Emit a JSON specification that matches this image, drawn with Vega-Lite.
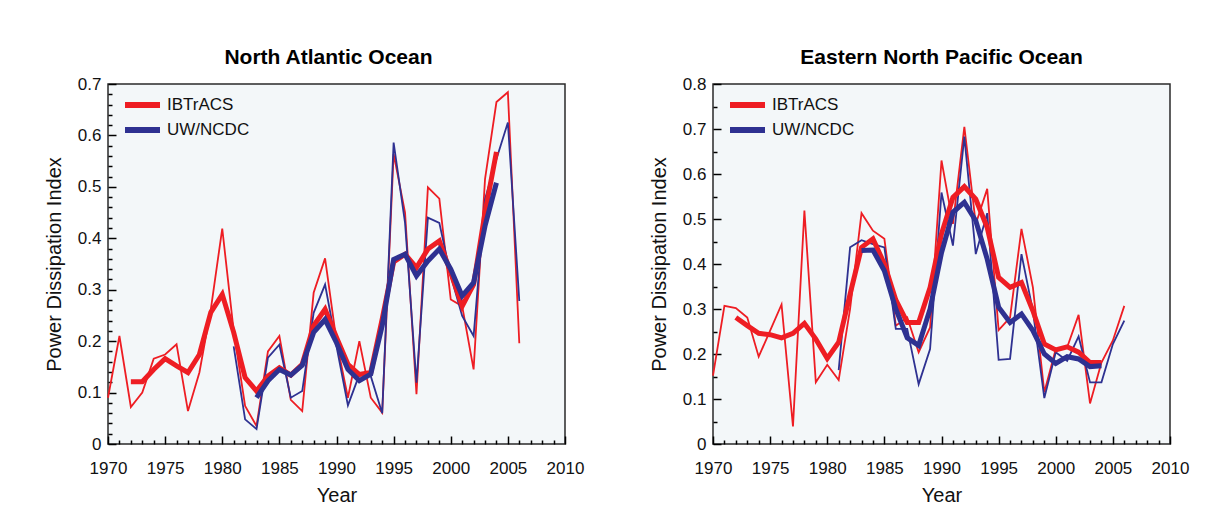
{
  "$schema": "https://vega.github.io/schema/vega-lite/v6.json",
  "background": "white",
  "padding": {"left": 43, "top": 46, "right": 10, "bottom": 5},
  "spacing": 63,
  "config": {
    "font": "Liberation Sans",
    "view": {"fill": "#f3f7f9", "stroke": "#2a2a2a", "strokeWidth": 1.5},
    "axis": {"grid": false, "domain": false, "labelFlush": false, "labelFont": "Liberation Sans", "labelFontSize": 17, "labelColor": "#111", "titleFont": "Liberation Sans", "titleFontSize": 20, "titleFontWeight": "normal", "titleColor": "#111", "tickColor": "#000", "tickWidth": 1.5, "ticks": true, "zindex": 1},
    "title": {"font": "Liberation Sans", "fontSize": 21, "fontWeight": "bold", "color": "#000", "offset": 7},
    "legend": {"orient": "none", "legendX": 24, "legendY": 10.5, "padding": 0, "symbolType": "M-2.333,0H2.333", "symbolStrokeWidth": 6, "symbolSize": 225, "labelFontSize": 17, "labelFont": "Liberation Sans", "labelColor": "#111", "rowPadding": 0, "labelOffset": 14}
  },
  "resolve": {"legend": {"color": "independent"}},
  "datasets": {
    "pdi": [
      {"basin": "North Atlantic Ocean", "source": "IBTrACS", "kind": "annual", "year": 1970, "pdi": 0.09},
      {"basin": "North Atlantic Ocean", "source": "IBTrACS", "kind": "annual", "year": 1971, "pdi": 0.21},
      {"basin": "North Atlantic Ocean", "source": "IBTrACS", "kind": "annual", "year": 1972, "pdi": 0.072},
      {"basin": "North Atlantic Ocean", "source": "IBTrACS", "kind": "annual", "year": 1973, "pdi": 0.1},
      {"basin": "North Atlantic Ocean", "source": "IBTrACS", "kind": "annual", "year": 1974, "pdi": 0.166},
      {"basin": "North Atlantic Ocean", "source": "IBTrACS", "kind": "annual", "year": 1975, "pdi": 0.174},
      {"basin": "North Atlantic Ocean", "source": "IBTrACS", "kind": "annual", "year": 1976, "pdi": 0.194},
      {"basin": "North Atlantic Ocean", "source": "IBTrACS", "kind": "annual", "year": 1977, "pdi": 0.064},
      {"basin": "North Atlantic Ocean", "source": "IBTrACS", "kind": "annual", "year": 1978, "pdi": 0.139},
      {"basin": "North Atlantic Ocean", "source": "IBTrACS", "kind": "annual", "year": 1979, "pdi": 0.262},
      {"basin": "North Atlantic Ocean", "source": "IBTrACS", "kind": "annual", "year": 1980, "pdi": 0.419},
      {"basin": "North Atlantic Ocean", "source": "IBTrACS", "kind": "annual", "year": 1981, "pdi": 0.22},
      {"basin": "North Atlantic Ocean", "source": "IBTrACS", "kind": "annual", "year": 1982, "pdi": 0.074},
      {"basin": "North Atlantic Ocean", "source": "IBTrACS", "kind": "annual", "year": 1983, "pdi": 0.035},
      {"basin": "North Atlantic Ocean", "source": "IBTrACS", "kind": "annual", "year": 1984, "pdi": 0.18},
      {"basin": "North Atlantic Ocean", "source": "IBTrACS", "kind": "annual", "year": 1985, "pdi": 0.21},
      {"basin": "North Atlantic Ocean", "source": "IBTrACS", "kind": "annual", "year": 1986, "pdi": 0.086},
      {"basin": "North Atlantic Ocean", "source": "IBTrACS", "kind": "annual", "year": 1987, "pdi": 0.064},
      {"basin": "North Atlantic Ocean", "source": "IBTrACS", "kind": "annual", "year": 1988, "pdi": 0.294},
      {"basin": "North Atlantic Ocean", "source": "IBTrACS", "kind": "annual", "year": 1989, "pdi": 0.361},
      {"basin": "North Atlantic Ocean", "source": "IBTrACS", "kind": "annual", "year": 1990, "pdi": 0.2},
      {"basin": "North Atlantic Ocean", "source": "IBTrACS", "kind": "annual", "year": 1991, "pdi": 0.09},
      {"basin": "North Atlantic Ocean", "source": "IBTrACS", "kind": "annual", "year": 1992, "pdi": 0.2},
      {"basin": "North Atlantic Ocean", "source": "IBTrACS", "kind": "annual", "year": 1993, "pdi": 0.09},
      {"basin": "North Atlantic Ocean", "source": "IBTrACS", "kind": "annual", "year": 1994, "pdi": 0.061},
      {"basin": "North Atlantic Ocean", "source": "IBTrACS", "kind": "annual", "year": 1995, "pdi": 0.564},
      {"basin": "North Atlantic Ocean", "source": "IBTrACS", "kind": "annual", "year": 1996, "pdi": 0.45},
      {"basin": "North Atlantic Ocean", "source": "IBTrACS", "kind": "annual", "year": 1997, "pdi": 0.097},
      {"basin": "North Atlantic Ocean", "source": "IBTrACS", "kind": "annual", "year": 1998, "pdi": 0.499},
      {"basin": "North Atlantic Ocean", "source": "IBTrACS", "kind": "annual", "year": 1999, "pdi": 0.477},
      {"basin": "North Atlantic Ocean", "source": "IBTrACS", "kind": "annual", "year": 2000, "pdi": 0.281},
      {"basin": "North Atlantic Ocean", "source": "IBTrACS", "kind": "annual", "year": 2001, "pdi": 0.268},
      {"basin": "North Atlantic Ocean", "source": "IBTrACS", "kind": "annual", "year": 2002, "pdi": 0.145},
      {"basin": "North Atlantic Ocean", "source": "IBTrACS", "kind": "annual", "year": 2003, "pdi": 0.515},
      {"basin": "North Atlantic Ocean", "source": "IBTrACS", "kind": "annual", "year": 2004, "pdi": 0.665},
      {"basin": "North Atlantic Ocean", "source": "IBTrACS", "kind": "annual", "year": 2005, "pdi": 0.684},
      {"basin": "North Atlantic Ocean", "source": "IBTrACS", "kind": "annual", "year": 2006, "pdi": 0.196},
      {"basin": "North Atlantic Ocean", "source": "UW/NCDC", "kind": "annual", "year": 1981, "pdi": 0.19},
      {"basin": "North Atlantic Ocean", "source": "UW/NCDC", "kind": "annual", "year": 1982, "pdi": 0.048},
      {"basin": "North Atlantic Ocean", "source": "UW/NCDC", "kind": "annual", "year": 1983, "pdi": 0.029},
      {"basin": "North Atlantic Ocean", "source": "UW/NCDC", "kind": "annual", "year": 1984, "pdi": 0.168},
      {"basin": "North Atlantic Ocean", "source": "UW/NCDC", "kind": "annual", "year": 1985, "pdi": 0.193},
      {"basin": "North Atlantic Ocean", "source": "UW/NCDC", "kind": "annual", "year": 1986, "pdi": 0.09},
      {"basin": "North Atlantic Ocean", "source": "UW/NCDC", "kind": "annual", "year": 1987, "pdi": 0.103},
      {"basin": "North Atlantic Ocean", "source": "UW/NCDC", "kind": "annual", "year": 1988, "pdi": 0.255},
      {"basin": "North Atlantic Ocean", "source": "UW/NCDC", "kind": "annual", "year": 1989, "pdi": 0.31},
      {"basin": "North Atlantic Ocean", "source": "UW/NCDC", "kind": "annual", "year": 1990, "pdi": 0.19},
      {"basin": "North Atlantic Ocean", "source": "UW/NCDC", "kind": "annual", "year": 1991, "pdi": 0.075},
      {"basin": "North Atlantic Ocean", "source": "UW/NCDC", "kind": "annual", "year": 1992, "pdi": 0.135},
      {"basin": "North Atlantic Ocean", "source": "UW/NCDC", "kind": "annual", "year": 1993, "pdi": 0.132},
      {"basin": "North Atlantic Ocean", "source": "UW/NCDC", "kind": "annual", "year": 1994, "pdi": 0.06},
      {"basin": "North Atlantic Ocean", "source": "UW/NCDC", "kind": "annual", "year": 1995, "pdi": 0.586},
      {"basin": "North Atlantic Ocean", "source": "UW/NCDC", "kind": "annual", "year": 1996, "pdi": 0.43},
      {"basin": "North Atlantic Ocean", "source": "UW/NCDC", "kind": "annual", "year": 1997, "pdi": 0.119},
      {"basin": "North Atlantic Ocean", "source": "UW/NCDC", "kind": "annual", "year": 1998, "pdi": 0.44},
      {"basin": "North Atlantic Ocean", "source": "UW/NCDC", "kind": "annual", "year": 1999, "pdi": 0.43},
      {"basin": "North Atlantic Ocean", "source": "UW/NCDC", "kind": "annual", "year": 2000, "pdi": 0.327},
      {"basin": "North Atlantic Ocean", "source": "UW/NCDC", "kind": "annual", "year": 2001, "pdi": 0.249},
      {"basin": "North Atlantic Ocean", "source": "UW/NCDC", "kind": "annual", "year": 2002, "pdi": 0.21},
      {"basin": "North Atlantic Ocean", "source": "UW/NCDC", "kind": "annual", "year": 2003, "pdi": 0.476},
      {"basin": "North Atlantic Ocean", "source": "UW/NCDC", "kind": "annual", "year": 2004, "pdi": 0.554},
      {"basin": "North Atlantic Ocean", "source": "UW/NCDC", "kind": "annual", "year": 2005, "pdi": 0.625},
      {"basin": "North Atlantic Ocean", "source": "UW/NCDC", "kind": "annual", "year": 2006, "pdi": 0.278},
      {"basin": "North Atlantic Ocean", "source": "IBTrACS", "kind": "smoothed", "year": 1972, "pdi": 0.121},
      {"basin": "North Atlantic Ocean", "source": "IBTrACS", "kind": "smoothed", "year": 1973, "pdi": 0.121},
      {"basin": "North Atlantic Ocean", "source": "IBTrACS", "kind": "smoothed", "year": 1974, "pdi": 0.145},
      {"basin": "North Atlantic Ocean", "source": "IBTrACS", "kind": "smoothed", "year": 1975, "pdi": 0.166},
      {"basin": "North Atlantic Ocean", "source": "IBTrACS", "kind": "smoothed", "year": 1976, "pdi": 0.152},
      {"basin": "North Atlantic Ocean", "source": "IBTrACS", "kind": "smoothed", "year": 1977, "pdi": 0.139},
      {"basin": "North Atlantic Ocean", "source": "IBTrACS", "kind": "smoothed", "year": 1978, "pdi": 0.174},
      {"basin": "North Atlantic Ocean", "source": "IBTrACS", "kind": "smoothed", "year": 1979, "pdi": 0.256},
      {"basin": "North Atlantic Ocean", "source": "IBTrACS", "kind": "smoothed", "year": 1980, "pdi": 0.291},
      {"basin": "North Atlantic Ocean", "source": "IBTrACS", "kind": "smoothed", "year": 1981, "pdi": 0.217},
      {"basin": "North Atlantic Ocean", "source": "IBTrACS", "kind": "smoothed", "year": 1982, "pdi": 0.129},
      {"basin": "North Atlantic Ocean", "source": "IBTrACS", "kind": "smoothed", "year": 1983, "pdi": 0.103},
      {"basin": "North Atlantic Ocean", "source": "IBTrACS", "kind": "smoothed", "year": 1984, "pdi": 0.132},
      {"basin": "North Atlantic Ocean", "source": "IBTrACS", "kind": "smoothed", "year": 1985, "pdi": 0.148},
      {"basin": "North Atlantic Ocean", "source": "IBTrACS", "kind": "smoothed", "year": 1986, "pdi": 0.134},
      {"basin": "North Atlantic Ocean", "source": "IBTrACS", "kind": "smoothed", "year": 1987, "pdi": 0.155},
      {"basin": "North Atlantic Ocean", "source": "IBTrACS", "kind": "smoothed", "year": 1988, "pdi": 0.23},
      {"basin": "North Atlantic Ocean", "source": "IBTrACS", "kind": "smoothed", "year": 1989, "pdi": 0.262},
      {"basin": "North Atlantic Ocean", "source": "IBTrACS", "kind": "smoothed", "year": 1990, "pdi": 0.207},
      {"basin": "North Atlantic Ocean", "source": "IBTrACS", "kind": "smoothed", "year": 1991, "pdi": 0.155},
      {"basin": "North Atlantic Ocean", "source": "IBTrACS", "kind": "smoothed", "year": 1992, "pdi": 0.135},
      {"basin": "North Atlantic Ocean", "source": "IBTrACS", "kind": "smoothed", "year": 1993, "pdi": 0.139},
      {"basin": "North Atlantic Ocean", "source": "IBTrACS", "kind": "smoothed", "year": 1994, "pdi": 0.243},
      {"basin": "North Atlantic Ocean", "source": "IBTrACS", "kind": "smoothed", "year": 1995, "pdi": 0.354},
      {"basin": "North Atlantic Ocean", "source": "IBTrACS", "kind": "smoothed", "year": 1996, "pdi": 0.369},
      {"basin": "North Atlantic Ocean", "source": "IBTrACS", "kind": "smoothed", "year": 1997, "pdi": 0.343},
      {"basin": "North Atlantic Ocean", "source": "IBTrACS", "kind": "smoothed", "year": 1998, "pdi": 0.379},
      {"basin": "North Atlantic Ocean", "source": "IBTrACS", "kind": "smoothed", "year": 1999, "pdi": 0.395},
      {"basin": "North Atlantic Ocean", "source": "IBTrACS", "kind": "smoothed", "year": 2000, "pdi": 0.333},
      {"basin": "North Atlantic Ocean", "source": "IBTrACS", "kind": "smoothed", "year": 2001, "pdi": 0.268},
      {"basin": "North Atlantic Ocean", "source": "IBTrACS", "kind": "smoothed", "year": 2002, "pdi": 0.31},
      {"basin": "North Atlantic Ocean", "source": "IBTrACS", "kind": "smoothed", "year": 2003, "pdi": 0.45},
      {"basin": "North Atlantic Ocean", "source": "IBTrACS", "kind": "smoothed", "year": 2004, "pdi": 0.568},
      {"basin": "North Atlantic Ocean", "source": "UW/NCDC", "kind": "smoothed", "year": 1983, "pdi": 0.09},
      {"basin": "North Atlantic Ocean", "source": "UW/NCDC", "kind": "smoothed", "year": 1984, "pdi": 0.123},
      {"basin": "North Atlantic Ocean", "source": "UW/NCDC", "kind": "smoothed", "year": 1985, "pdi": 0.145},
      {"basin": "North Atlantic Ocean", "source": "UW/NCDC", "kind": "smoothed", "year": 1986, "pdi": 0.134},
      {"basin": "North Atlantic Ocean", "source": "UW/NCDC", "kind": "smoothed", "year": 1987, "pdi": 0.153},
      {"basin": "North Atlantic Ocean", "source": "UW/NCDC", "kind": "smoothed", "year": 1988, "pdi": 0.217},
      {"basin": "North Atlantic Ocean", "source": "UW/NCDC", "kind": "smoothed", "year": 1989, "pdi": 0.242},
      {"basin": "North Atlantic Ocean", "source": "UW/NCDC", "kind": "smoothed", "year": 1990, "pdi": 0.197},
      {"basin": "North Atlantic Ocean", "source": "UW/NCDC", "kind": "smoothed", "year": 1991, "pdi": 0.145},
      {"basin": "North Atlantic Ocean", "source": "UW/NCDC", "kind": "smoothed", "year": 1992, "pdi": 0.123},
      {"basin": "North Atlantic Ocean", "source": "UW/NCDC", "kind": "smoothed", "year": 1993, "pdi": 0.136},
      {"basin": "North Atlantic Ocean", "source": "UW/NCDC", "kind": "smoothed", "year": 1994, "pdi": 0.23},
      {"basin": "North Atlantic Ocean", "source": "UW/NCDC", "kind": "smoothed", "year": 1995, "pdi": 0.359},
      {"basin": "North Atlantic Ocean", "source": "UW/NCDC", "kind": "smoothed", "year": 1996, "pdi": 0.369},
      {"basin": "North Atlantic Ocean", "source": "UW/NCDC", "kind": "smoothed", "year": 1997, "pdi": 0.327},
      {"basin": "North Atlantic Ocean", "source": "UW/NCDC", "kind": "smoothed", "year": 1998, "pdi": 0.356},
      {"basin": "North Atlantic Ocean", "source": "UW/NCDC", "kind": "smoothed", "year": 1999, "pdi": 0.379},
      {"basin": "North Atlantic Ocean", "source": "UW/NCDC", "kind": "smoothed", "year": 2000, "pdi": 0.34},
      {"basin": "North Atlantic Ocean", "source": "UW/NCDC", "kind": "smoothed", "year": 2001, "pdi": 0.288},
      {"basin": "North Atlantic Ocean", "source": "UW/NCDC", "kind": "smoothed", "year": 2002, "pdi": 0.314},
      {"basin": "North Atlantic Ocean", "source": "UW/NCDC", "kind": "smoothed", "year": 2003, "pdi": 0.424},
      {"basin": "North Atlantic Ocean", "source": "UW/NCDC", "kind": "smoothed", "year": 2004, "pdi": 0.508},
      {"basin": "Eastern North Pacific Ocean", "source": "IBTrACS", "kind": "annual", "year": 1970, "pdi": 0.152},
      {"basin": "Eastern North Pacific Ocean", "source": "IBTrACS", "kind": "annual", "year": 1971, "pdi": 0.307},
      {"basin": "Eastern North Pacific Ocean", "source": "IBTrACS", "kind": "annual", "year": 1972, "pdi": 0.302},
      {"basin": "Eastern North Pacific Ocean", "source": "IBTrACS", "kind": "annual", "year": 1973, "pdi": 0.281},
      {"basin": "Eastern North Pacific Ocean", "source": "IBTrACS", "kind": "annual", "year": 1974, "pdi": 0.194},
      {"basin": "Eastern North Pacific Ocean", "source": "IBTrACS", "kind": "annual", "year": 1975, "pdi": 0.252},
      {"basin": "Eastern North Pacific Ocean", "source": "IBTrACS", "kind": "annual", "year": 1976, "pdi": 0.31},
      {"basin": "Eastern North Pacific Ocean", "source": "IBTrACS", "kind": "annual", "year": 1977, "pdi": 0.039},
      {"basin": "Eastern North Pacific Ocean", "source": "IBTrACS", "kind": "annual", "year": 1978, "pdi": 0.519},
      {"basin": "Eastern North Pacific Ocean", "source": "IBTrACS", "kind": "annual", "year": 1979, "pdi": 0.137},
      {"basin": "Eastern North Pacific Ocean", "source": "IBTrACS", "kind": "annual", "year": 1980, "pdi": 0.176},
      {"basin": "Eastern North Pacific Ocean", "source": "IBTrACS", "kind": "annual", "year": 1981, "pdi": 0.142},
      {"basin": "Eastern North Pacific Ocean", "source": "IBTrACS", "kind": "annual", "year": 1982, "pdi": 0.3},
      {"basin": "Eastern North Pacific Ocean", "source": "IBTrACS", "kind": "annual", "year": 1983, "pdi": 0.513},
      {"basin": "Eastern North Pacific Ocean", "source": "IBTrACS", "kind": "annual", "year": 1984, "pdi": 0.474},
      {"basin": "Eastern North Pacific Ocean", "source": "IBTrACS", "kind": "annual", "year": 1985, "pdi": 0.456},
      {"basin": "Eastern North Pacific Ocean", "source": "IBTrACS", "kind": "annual", "year": 1986, "pdi": 0.263},
      {"basin": "Eastern North Pacific Ocean", "source": "IBTrACS", "kind": "annual", "year": 1987, "pdi": 0.281},
      {"basin": "Eastern North Pacific Ocean", "source": "IBTrACS", "kind": "annual", "year": 1988, "pdi": 0.204},
      {"basin": "Eastern North Pacific Ocean", "source": "IBTrACS", "kind": "annual", "year": 1989, "pdi": 0.259},
      {"basin": "Eastern North Pacific Ocean", "source": "IBTrACS", "kind": "annual", "year": 1990, "pdi": 0.63},
      {"basin": "Eastern North Pacific Ocean", "source": "IBTrACS", "kind": "annual", "year": 1991, "pdi": 0.489},
      {"basin": "Eastern North Pacific Ocean", "source": "IBTrACS", "kind": "annual", "year": 1992, "pdi": 0.705},
      {"basin": "Eastern North Pacific Ocean", "source": "IBTrACS", "kind": "annual", "year": 1993, "pdi": 0.489},
      {"basin": "Eastern North Pacific Ocean", "source": "IBTrACS", "kind": "annual", "year": 1994, "pdi": 0.567},
      {"basin": "Eastern North Pacific Ocean", "source": "IBTrACS", "kind": "annual", "year": 1995, "pdi": 0.253},
      {"basin": "Eastern North Pacific Ocean", "source": "IBTrACS", "kind": "annual", "year": 1996, "pdi": 0.281},
      {"basin": "Eastern North Pacific Ocean", "source": "IBTrACS", "kind": "annual", "year": 1997, "pdi": 0.478},
      {"basin": "Eastern North Pacific Ocean", "source": "IBTrACS", "kind": "annual", "year": 1998, "pdi": 0.348},
      {"basin": "Eastern North Pacific Ocean", "source": "IBTrACS", "kind": "annual", "year": 1999, "pdi": 0.115},
      {"basin": "Eastern North Pacific Ocean", "source": "IBTrACS", "kind": "annual", "year": 2000, "pdi": 0.211},
      {"basin": "Eastern North Pacific Ocean", "source": "IBTrACS", "kind": "annual", "year": 2001, "pdi": 0.215},
      {"basin": "Eastern North Pacific Ocean", "source": "IBTrACS", "kind": "annual", "year": 2002, "pdi": 0.287},
      {"basin": "Eastern North Pacific Ocean", "source": "IBTrACS", "kind": "annual", "year": 2003, "pdi": 0.09},
      {"basin": "Eastern North Pacific Ocean", "source": "IBTrACS", "kind": "annual", "year": 2004, "pdi": 0.181},
      {"basin": "Eastern North Pacific Ocean", "source": "IBTrACS", "kind": "annual", "year": 2005, "pdi": 0.23},
      {"basin": "Eastern North Pacific Ocean", "source": "IBTrACS", "kind": "annual", "year": 2006, "pdi": 0.307},
      {"basin": "Eastern North Pacific Ocean", "source": "UW/NCDC", "kind": "annual", "year": 1981, "pdi": 0.164},
      {"basin": "Eastern North Pacific Ocean", "source": "UW/NCDC", "kind": "annual", "year": 1982, "pdi": 0.437},
      {"basin": "Eastern North Pacific Ocean", "source": "UW/NCDC", "kind": "annual", "year": 1983, "pdi": 0.453},
      {"basin": "Eastern North Pacific Ocean", "source": "UW/NCDC", "kind": "annual", "year": 1984, "pdi": 0.444},
      {"basin": "Eastern North Pacific Ocean", "source": "UW/NCDC", "kind": "annual", "year": 1985, "pdi": 0.437},
      {"basin": "Eastern North Pacific Ocean", "source": "UW/NCDC", "kind": "annual", "year": 1986, "pdi": 0.256},
      {"basin": "Eastern North Pacific Ocean", "source": "UW/NCDC", "kind": "annual", "year": 1987, "pdi": 0.256},
      {"basin": "Eastern North Pacific Ocean", "source": "UW/NCDC", "kind": "annual", "year": 1988, "pdi": 0.133},
      {"basin": "Eastern North Pacific Ocean", "source": "UW/NCDC", "kind": "annual", "year": 1989, "pdi": 0.211},
      {"basin": "Eastern North Pacific Ocean", "source": "UW/NCDC", "kind": "annual", "year": 1990, "pdi": 0.559},
      {"basin": "Eastern North Pacific Ocean", "source": "UW/NCDC", "kind": "annual", "year": 1991, "pdi": 0.441},
      {"basin": "Eastern North Pacific Ocean", "source": "UW/NCDC", "kind": "annual", "year": 1992, "pdi": 0.683},
      {"basin": "Eastern North Pacific Ocean", "source": "UW/NCDC", "kind": "annual", "year": 1993, "pdi": 0.422},
      {"basin": "Eastern North Pacific Ocean", "source": "UW/NCDC", "kind": "annual", "year": 1994, "pdi": 0.513},
      {"basin": "Eastern North Pacific Ocean", "source": "UW/NCDC", "kind": "annual", "year": 1995, "pdi": 0.187},
      {"basin": "Eastern North Pacific Ocean", "source": "UW/NCDC", "kind": "annual", "year": 1996, "pdi": 0.189},
      {"basin": "Eastern North Pacific Ocean", "source": "UW/NCDC", "kind": "annual", "year": 1997, "pdi": 0.422},
      {"basin": "Eastern North Pacific Ocean", "source": "UW/NCDC", "kind": "annual", "year": 1998, "pdi": 0.296},
      {"basin": "Eastern North Pacific Ocean", "source": "UW/NCDC", "kind": "annual", "year": 1999, "pdi": 0.102},
      {"basin": "Eastern North Pacific Ocean", "source": "UW/NCDC", "kind": "annual", "year": 2000, "pdi": 0.204},
      {"basin": "Eastern North Pacific Ocean", "source": "UW/NCDC", "kind": "annual", "year": 2001, "pdi": 0.185},
      {"basin": "Eastern North Pacific Ocean", "source": "UW/NCDC", "kind": "annual", "year": 2002, "pdi": 0.239},
      {"basin": "Eastern North Pacific Ocean", "source": "UW/NCDC", "kind": "annual", "year": 2003, "pdi": 0.137},
      {"basin": "Eastern North Pacific Ocean", "source": "UW/NCDC", "kind": "annual", "year": 2004, "pdi": 0.137},
      {"basin": "Eastern North Pacific Ocean", "source": "UW/NCDC", "kind": "annual", "year": 2005, "pdi": 0.222},
      {"basin": "Eastern North Pacific Ocean", "source": "UW/NCDC", "kind": "annual", "year": 2006, "pdi": 0.274},
      {"basin": "Eastern North Pacific Ocean", "source": "IBTrACS", "kind": "smoothed", "year": 1972, "pdi": 0.281},
      {"basin": "Eastern North Pacific Ocean", "source": "IBTrACS", "kind": "smoothed", "year": 1973, "pdi": 0.263},
      {"basin": "Eastern North Pacific Ocean", "source": "IBTrACS", "kind": "smoothed", "year": 1974, "pdi": 0.246},
      {"basin": "Eastern North Pacific Ocean", "source": "IBTrACS", "kind": "smoothed", "year": 1975, "pdi": 0.243},
      {"basin": "Eastern North Pacific Ocean", "source": "IBTrACS", "kind": "smoothed", "year": 1976, "pdi": 0.236},
      {"basin": "Eastern North Pacific Ocean", "source": "IBTrACS", "kind": "smoothed", "year": 1977, "pdi": 0.246},
      {"basin": "Eastern North Pacific Ocean", "source": "IBTrACS", "kind": "smoothed", "year": 1978, "pdi": 0.268},
      {"basin": "Eastern North Pacific Ocean", "source": "IBTrACS", "kind": "smoothed", "year": 1979, "pdi": 0.233},
      {"basin": "Eastern North Pacific Ocean", "source": "IBTrACS", "kind": "smoothed", "year": 1980, "pdi": 0.19},
      {"basin": "Eastern North Pacific Ocean", "source": "IBTrACS", "kind": "smoothed", "year": 1981, "pdi": 0.226},
      {"basin": "Eastern North Pacific Ocean", "source": "IBTrACS", "kind": "smoothed", "year": 1982, "pdi": 0.333},
      {"basin": "Eastern North Pacific Ocean", "source": "IBTrACS", "kind": "smoothed", "year": 1983, "pdi": 0.437},
      {"basin": "Eastern North Pacific Ocean", "source": "IBTrACS", "kind": "smoothed", "year": 1984, "pdi": 0.456},
      {"basin": "Eastern North Pacific Ocean", "source": "IBTrACS", "kind": "smoothed", "year": 1985, "pdi": 0.4},
      {"basin": "Eastern North Pacific Ocean", "source": "IBTrACS", "kind": "smoothed", "year": 1986, "pdi": 0.32},
      {"basin": "Eastern North Pacific Ocean", "source": "IBTrACS", "kind": "smoothed", "year": 1987, "pdi": 0.27},
      {"basin": "Eastern North Pacific Ocean", "source": "IBTrACS", "kind": "smoothed", "year": 1988, "pdi": 0.27},
      {"basin": "Eastern North Pacific Ocean", "source": "IBTrACS", "kind": "smoothed", "year": 1989, "pdi": 0.348},
      {"basin": "Eastern North Pacific Ocean", "source": "IBTrACS", "kind": "smoothed", "year": 1990, "pdi": 0.467},
      {"basin": "Eastern North Pacific Ocean", "source": "IBTrACS", "kind": "smoothed", "year": 1991, "pdi": 0.548},
      {"basin": "Eastern North Pacific Ocean", "source": "IBTrACS", "kind": "smoothed", "year": 1992, "pdi": 0.572},
      {"basin": "Eastern North Pacific Ocean", "source": "IBTrACS", "kind": "smoothed", "year": 1993, "pdi": 0.544},
      {"basin": "Eastern North Pacific Ocean", "source": "IBTrACS", "kind": "smoothed", "year": 1994, "pdi": 0.481},
      {"basin": "Eastern North Pacific Ocean", "source": "IBTrACS", "kind": "smoothed", "year": 1995, "pdi": 0.37},
      {"basin": "Eastern North Pacific Ocean", "source": "IBTrACS", "kind": "smoothed", "year": 1996, "pdi": 0.348},
      {"basin": "Eastern North Pacific Ocean", "source": "IBTrACS", "kind": "smoothed", "year": 1997, "pdi": 0.359},
      {"basin": "Eastern North Pacific Ocean", "source": "IBTrACS", "kind": "smoothed", "year": 1998, "pdi": 0.296},
      {"basin": "Eastern North Pacific Ocean", "source": "IBTrACS", "kind": "smoothed", "year": 1999, "pdi": 0.222},
      {"basin": "Eastern North Pacific Ocean", "source": "IBTrACS", "kind": "smoothed", "year": 2000, "pdi": 0.209},
      {"basin": "Eastern North Pacific Ocean", "source": "IBTrACS", "kind": "smoothed", "year": 2001, "pdi": 0.216},
      {"basin": "Eastern North Pacific Ocean", "source": "IBTrACS", "kind": "smoothed", "year": 2002, "pdi": 0.204},
      {"basin": "Eastern North Pacific Ocean", "source": "IBTrACS", "kind": "smoothed", "year": 2003, "pdi": 0.181},
      {"basin": "Eastern North Pacific Ocean", "source": "IBTrACS", "kind": "smoothed", "year": 2004, "pdi": 0.181},
      {"basin": "Eastern North Pacific Ocean", "source": "UW/NCDC", "kind": "smoothed", "year": 1983, "pdi": 0.43},
      {"basin": "Eastern North Pacific Ocean", "source": "UW/NCDC", "kind": "smoothed", "year": 1984, "pdi": 0.431},
      {"basin": "Eastern North Pacific Ocean", "source": "UW/NCDC", "kind": "smoothed", "year": 1985, "pdi": 0.385},
      {"basin": "Eastern North Pacific Ocean", "source": "UW/NCDC", "kind": "smoothed", "year": 1986, "pdi": 0.3},
      {"basin": "Eastern North Pacific Ocean", "source": "UW/NCDC", "kind": "smoothed", "year": 1987, "pdi": 0.236},
      {"basin": "Eastern North Pacific Ocean", "source": "UW/NCDC", "kind": "smoothed", "year": 1988, "pdi": 0.219},
      {"basin": "Eastern North Pacific Ocean", "source": "UW/NCDC", "kind": "smoothed", "year": 1989, "pdi": 0.3},
      {"basin": "Eastern North Pacific Ocean", "source": "UW/NCDC", "kind": "smoothed", "year": 1990, "pdi": 0.425},
      {"basin": "Eastern North Pacific Ocean", "source": "UW/NCDC", "kind": "smoothed", "year": 1991, "pdi": 0.515},
      {"basin": "Eastern North Pacific Ocean", "source": "UW/NCDC", "kind": "smoothed", "year": 1992, "pdi": 0.537},
      {"basin": "Eastern North Pacific Ocean", "source": "UW/NCDC", "kind": "smoothed", "year": 1993, "pdi": 0.496},
      {"basin": "Eastern North Pacific Ocean", "source": "UW/NCDC", "kind": "smoothed", "year": 1994, "pdi": 0.411},
      {"basin": "Eastern North Pacific Ocean", "source": "UW/NCDC", "kind": "smoothed", "year": 1995, "pdi": 0.304},
      {"basin": "Eastern North Pacific Ocean", "source": "UW/NCDC", "kind": "smoothed", "year": 1996, "pdi": 0.27},
      {"basin": "Eastern North Pacific Ocean", "source": "UW/NCDC", "kind": "smoothed", "year": 1997, "pdi": 0.289},
      {"basin": "Eastern North Pacific Ocean", "source": "UW/NCDC", "kind": "smoothed", "year": 1998, "pdi": 0.252},
      {"basin": "Eastern North Pacific Ocean", "source": "UW/NCDC", "kind": "smoothed", "year": 1999, "pdi": 0.2},
      {"basin": "Eastern North Pacific Ocean", "source": "UW/NCDC", "kind": "smoothed", "year": 2000, "pdi": 0.179},
      {"basin": "Eastern North Pacific Ocean", "source": "UW/NCDC", "kind": "smoothed", "year": 2001, "pdi": 0.194},
      {"basin": "Eastern North Pacific Ocean", "source": "UW/NCDC", "kind": "smoothed", "year": 2002, "pdi": 0.189},
      {"basin": "Eastern North Pacific Ocean", "source": "UW/NCDC", "kind": "smoothed", "year": 2003, "pdi": 0.172},
      {"basin": "Eastern North Pacific Ocean", "source": "UW/NCDC", "kind": "smoothed", "year": 2004, "pdi": 0.174}
    ]
  },
  "hconcat": [
    {
      "title": {"text": "North Atlantic Ocean", "dx": -8},
      "width": 457,
      "height": 360,
      "data": {"name": "pdi"},
      "transform": [{"filter": "datum.basin === 'North Atlantic Ocean'"}],
      "encoding": {
        "x": {"field": "year", "type": "quantitative", "scale": {"domain": [1970, 2010], "nice": false, "zero": false},
          "axis": {"title": "Year", "titlePadding": 9, "labelPadding": 24, "values": [1970,1971,1972,1973,1974,1975,1976,1977,1978,1979,1980,1981,1982,1983,1984,1985,1986,1987,1988,1989,1990,1991,1992,1993,1994,1995,1996,1997,1998,1999,2000,2001,2002,2003,2004,2005,2006,2007,2008,2009,2010],
            "labelExpr": "datum.value % 5 === 0 ? format(datum.value, 'd') : ''",
            "tickSize": {"condition": {"test": "datum.value % 5 === 0", "value": -8}, "value": -4}}},
        "y": {"field": "pdi", "type": "quantitative", "scale": {"domain": [0, 0.7], "nice": false},
          "axis": {"title": "Power Dissipation Index", "titlePadding": 13, "labelPadding": 15, "values": [0,0.02,0.04,0.06,0.08,0.1,0.12,0.14,0.16,0.18,0.2,0.22,0.24,0.26,0.28,0.3,0.32,0.34,0.36,0.38,0.4,0.42,0.44,0.46,0.48,0.5,0.52,0.54,0.56,0.58,0.6,0.62,0.64,0.66,0.68,0.7],
            "labelExpr": "abs(datum.value * 10 - round(datum.value * 10)) < 0.000001 ? format(datum.value, '.1~f') : ''",
            "tickSize": {"condition": {"test": "abs(datum.value * 10 - round(datum.value * 10)) < 0.000001", "value": -8}, "value": -4}}},
        "color": {"field": "source", "type": "nominal", "scale": {"domain": ["IBTrACS", "UW/NCDC"], "range": ["#ee1d23", "#2e3191"]}, "legend": {"title": null}}
      },
      "layer": [
        {"transform": [{"filter": "datum.kind === 'annual'"}], "mark": {"type": "line", "strokeWidth": 1.8}},
        {"transform": [{"filter": "datum.kind === 'smoothed'"}], "mark": {"type": "line", "strokeWidth": 5}}
      ]
    },
    {
      "title": {"text": "Eastern North Pacific Ocean"},
      "width": 457,
      "height": 360,
      "data": {"name": "pdi"},
      "transform": [{"filter": "datum.basin === 'Eastern North Pacific Ocean'"}],
      "encoding": {
        "x": {"field": "year", "type": "quantitative", "scale": {"domain": [1970, 2010], "nice": false, "zero": false},
          "axis": {"title": "Year", "titlePadding": 9, "labelPadding": 24, "values": [1970,1971,1972,1973,1974,1975,1976,1977,1978,1979,1980,1981,1982,1983,1984,1985,1986,1987,1988,1989,1990,1991,1992,1993,1994,1995,1996,1997,1998,1999,2000,2001,2002,2003,2004,2005,2006,2007,2008,2009,2010],
            "labelExpr": "datum.value % 5 === 0 ? format(datum.value, 'd') : ''",
            "tickSize": {"condition": {"test": "datum.value % 5 === 0", "value": -8}, "value": -4}}},
        "y": {"field": "pdi", "type": "quantitative", "scale": {"domain": [0, 0.8], "nice": false},
          "axis": {"title": "Power Dissipation Index", "titlePadding": 13, "labelPadding": 15, "values": [0,0.05,0.1,0.15,0.2,0.25,0.3,0.35,0.4,0.45,0.5,0.55,0.6,0.65,0.7,0.75,0.8],
            "labelExpr": "abs(datum.value * 10 - round(datum.value * 10)) < 0.000001 ? format(datum.value, '.1~f') : ''",
            "tickSize": {"condition": {"test": "abs(datum.value * 10 - round(datum.value * 10)) < 0.000001", "value": -8}, "value": -4}}},
        "color": {"field": "source", "type": "nominal", "scale": {"domain": ["IBTrACS", "UW/NCDC"], "range": ["#ee1d23", "#2e3191"]}, "legend": {"title": null}}
      },
      "layer": [
        {"transform": [{"filter": "datum.kind === 'annual'"}], "mark": {"type": "line", "strokeWidth": 1.8}},
        {"transform": [{"filter": "datum.kind === 'smoothed'"}], "mark": {"type": "line", "strokeWidth": 5}}
      ]
    }
  ]
}
